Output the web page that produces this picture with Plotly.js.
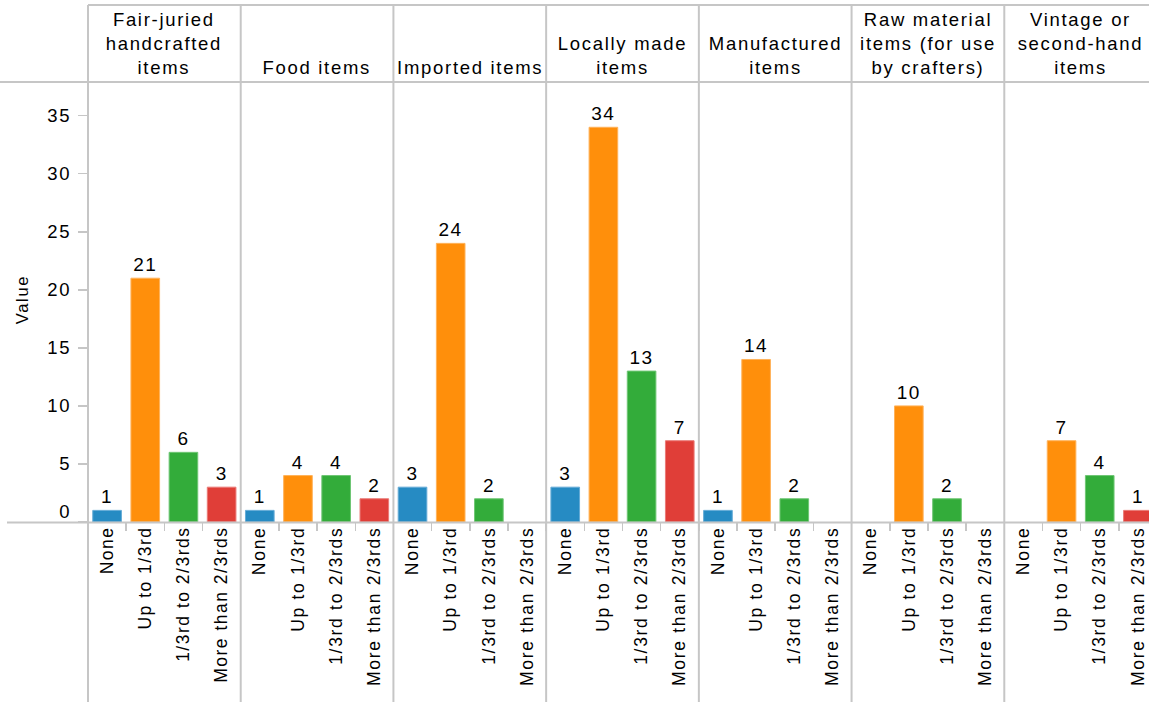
<!DOCTYPE html>
<html>
<head>
<meta charset="utf-8">
<script src="https://cdn.plot.ly/plotly-3.0.1.min.js"></script>
<style>
html,body{margin:0;padding:0;overflow:hidden;background:#fff;}
#chart{width:1157px;height:702px;}
#chart svg text{letter-spacing:1.7px;}
#chart svg .xtick text{letter-spacing:1.5px;}
#chart svg text.bartext{letter-spacing:1.4px;}
</style>
</head>
<body>
<div id="chart"></div>
<script>
// ---- data ----
const facetLabels = [
  "Fair-juried<br>handcrafted<br>items",
  "Food items",
  "Imported items",
  "Locally made<br>items",
  "Manufactured<br>items",
  "Raw material<br>items (for use<br>by crafters)",
  "Vintage or<br>second-hand<br>items"
];
const categories = ["None", "Up to 1/3rd", "1/3rd to 2/3rds", "More than 2/3rds"];
const valuesNone   = [1, 1, 3, 3, 1, null, null];
const valuesUpTo   = [21, 4, 24, 34, 14, 10, 7];
const valuesMiddle = [6, 4, 2, 13, 2, 2, 4];
const valuesMore   = [3, 2, null, 7, null, null, 1];
const yTickValues  = [0, 5, 10, 15, 20, 25, 30, 35];
const yAxisTitle   = "Value";

// ---- style ----
const catColors = ["#268bc3", "#ff8f0b", "#33ac3a", "#e03e38"];
const catLine   = ["#64abd6", "#ffb25a", "#6fc674", "#ea7a76"];
const FONT = "Liberation Sans, Arial, Helvetica, sans-serif";
const GRID = "#c6c6c6";

const W = 1157, H = 702, ML = 88, MR = 0, MT = 82, MB = 180;
const PW = W - ML - MR, PH = H - MT - MB;
const px = x => (x - ML) / PW;
const py = y => (H - MB - y) / PH;

const nF = facetLabels.length;
const traces = [];
const layout = {
  width: W, height: H,
  margin: {l: ML, r: MR, t: MT, b: MB, pad: 0},
  paper_bgcolor: "#fff", plot_bgcolor: "#fff",
  showlegend: false,
  bargap: 0.25,
  font: {family: FONT, color: "#000", size: 17},
  yaxis: {
    range: [0, 37.9], tickvals: yTickValues, showticklabels: false,
    ticks: "outside", ticklen: 9, tickwidth: 1.5, tickcolor: GRID,
    showgrid: false, zeroline: false, showline: false, fixedrange: true
  },
  shapes: [], annotations: []
};

for (let i = 0; i < nF; i++) {
  const vals = [valuesNone[i], valuesUpTo[i], valuesMiddle[i], valuesMore[i]];
  const ax = i === 0 ? "x" : "x" + (i + 1);
  const axKey = i === 0 ? "xaxis" : "xaxis" + (i + 1);
  traces.push({
    type: "bar", x: categories, y: vals, xaxis: ax, yaxis: "y",
    marker: {color: catColors, line: {color: catLine, width: 1}},
    text: vals.map(v => v == null ? "" : String(v)),
    texttemplate: "%{text}",
    textposition: "outside", cliponaxis: false,
    textfont: {family: FONT, size: 19, color: "#000"},
    hoverinfo: "x+y"
  });
  layout[axKey] = {
    domain: [i / nF, (i + 1) / nF], anchor: "y",
    type: "category", categoryorder: "array", categoryarray: categories,
    tickangle: -90, tickson: "boundaries",
    ticks: "outside", ticklen: 8, tickwidth: 1.5, tickcolor: GRID,
    tickfont: {family: FONT, size: 17.5, color: "#000"},
    showgrid: false, zeroline: false, showline: false, fixedrange: true
  };
  layout.annotations.push({
    xref: "paper", yref: "paper",
    x: (i + 0.5) / nF, y: py(80), xanchor: "center", yanchor: "bottom",
    text: facetLabels[i], showarrow: false, align: "center",
    font: {family: FONT, size: 18.5, color: "#000"}
  });
}

// y tick labels (flush zero label like the reference)
yTickValues.forEach(v => {
  layout.annotations.push({
    xref: "paper", yref: "y", x: px(72), y: v,
    xanchor: "right", yanchor: "middle", showarrow: false,
    yshift: v === 0 ? 11 : 0,
    text: String(v), font: {family: FONT, size: 18.5, color: "#000"}
  });
});
layout.annotations.push({
  xref: "paper", yref: "paper", x: px(22), y: py(300),
  xanchor: "center", yanchor: "middle", textangle: -90, showarrow: false,
  text: yAxisTitle, font: {family: FONT, size: 16.5, color: "#000"}
});

// borders
const lineStyle = {color: GRID, width: 2};
layout.shapes.push({type: "line", xref: "paper", yref: "paper", x0: px(88), x1: px(W + 5), y0: py(5), y1: py(5), line: lineStyle});
layout.shapes.push({type: "line", xref: "paper", yref: "paper", x0: px(0), x1: px(W + 5), y0: py(82), y1: py(82), line: lineStyle});
layout.shapes.push({type: "line", xref: "paper", yref: "paper", x0: px(7), x1: px(W + 5), y0: py(522.5), y1: py(522.5), line: lineStyle});
for (let i = 0; i <= nF; i++) {
  layout.shapes.push({type: "line", xref: "paper", yref: "paper", x0: i / nF, x1: i / nF, y0: py(5), y1: py(H + 5), line: lineStyle});
}

Plotly.newPlot("chart", traces, layout, {staticPlot: true, displayModeBar: false});
</script>
</body>
</html>
